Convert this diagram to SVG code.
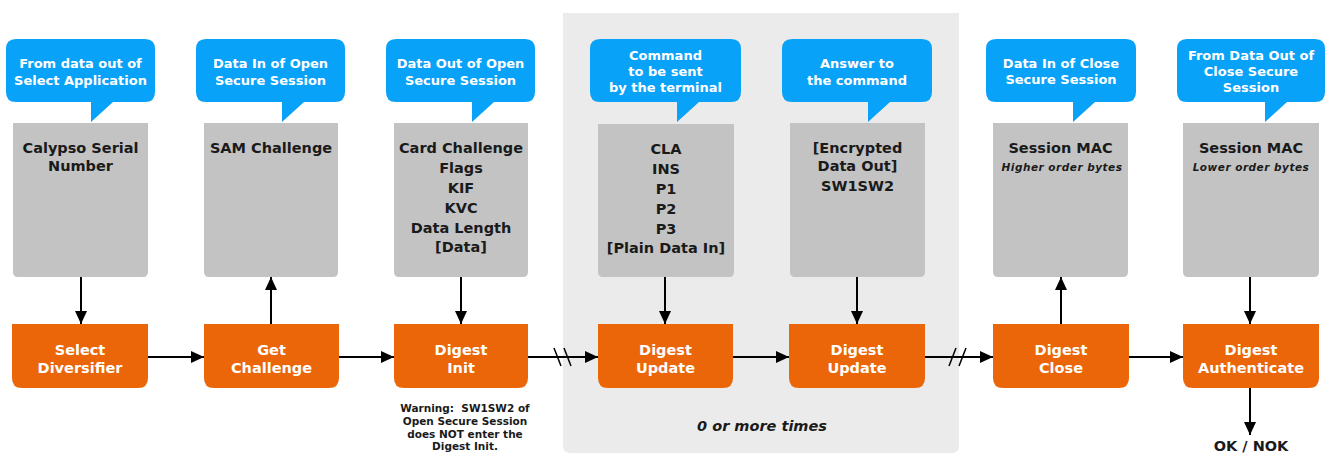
<svg xmlns="http://www.w3.org/2000/svg" width="1327" height="453" viewBox="0 0 1327 453">
  <style>
    .bg { fill: #ffffff; }
    .loop { fill: #ebebeb; }
    .callout { fill: #08a2f8; }
    .data { fill: #c3c3c3; }
    .step { fill: #eb6608; }
    text { font-family: "DejaVu Sans", Verdana, sans-serif; font-weight: bold; text-anchor: middle; }
    .ct { fill: #ffffff; font-size: 13px; }
    .dt { fill: #1a1a1a; font-size: 14.5px; }
    .sub { fill: #1a1a1a; font-size: 10.5px; font-style: italic; letter-spacing: 0.5px; }
    .st { fill: #ffffff; font-size: 14.5px; }
    .note { fill: #1a1a1a; font-size: 10.5px; white-space: pre; }
    .loopnote { fill: #1a1a1a; font-size: 14.5px; font-style: italic; }
    .wire { stroke: #000000; stroke-width: 2; fill: none; }
    .brk { stroke: #000000; stroke-width: 1.5; fill: none; }
  </style>
  <defs>
    <marker id="head" markerUnits="userSpaceOnUse" markerWidth="14" markerHeight="14" viewBox="0 0 14 14" refX="13" refY="7" orient="auto">
      <path d="M0,1 L13,7 L0,13 Z" fill="#000000"/>
    </marker>
  </defs>

  <rect class="bg" x="0" y="0" width="1327" height="453"/>

  <!-- repeated-steps area -->
  <path class="loop" d="M563,13 H959 V446 Q959,453 952,453 H570 Q563,453 563,446 Z"/>
  <text class="loopnote" x="762" y="431">0 or more times</text>

  <!-- connectors -->
  <g id="connectors">
    <line class="wire" x1="81" y1="277" x2="81" y2="324" marker-end="url(#head)"/>
    <line class="wire" x1="271" y1="324" x2="271" y2="277" marker-end="url(#head)"/>
    <line class="wire" x1="461" y1="277" x2="461" y2="324" marker-end="url(#head)"/>
    <line class="wire" x1="665" y1="277" x2="665" y2="324" marker-end="url(#head)"/>
    <line class="wire" x1="857" y1="277" x2="857" y2="324" marker-end="url(#head)"/>
    <line class="wire" x1="1061" y1="324" x2="1061" y2="277" marker-end="url(#head)"/>
    <line class="wire" x1="1250" y1="277" x2="1250" y2="324" marker-end="url(#head)"/>
    <line class="wire" x1="1250" y1="388" x2="1250" y2="435" marker-end="url(#head)"/>

    <line class="wire" x1="148" y1="357" x2="204" y2="357" marker-end="url(#head)"/>
    <line class="wire" x1="339" y1="357" x2="394" y2="357" marker-end="url(#head)"/>
    <line class="wire" x1="528" y1="357" x2="598" y2="357" marker-end="url(#head)"/>
    <line class="wire" x1="733" y1="357" x2="789" y2="357" marker-end="url(#head)"/>
    <line class="wire" x1="925" y1="357" x2="993" y2="357" marker-end="url(#head)"/>
    <line class="wire" x1="1129" y1="357" x2="1183" y2="357" marker-end="url(#head)"/>

    <!-- break marks -->
    <line class="brk" x1="554" y1="348" x2="561" y2="366"/>
    <line class="brk" x1="564" y1="348" x2="571" y2="366"/>
    <line class="brk" x1="949" y1="366" x2="956" y2="348"/>
    <line class="brk" x1="959" y1="366" x2="966" y2="348"/>
  </g>

  <!-- column 1 -->
  <g id="callout-select-app">
    <path class="callout" d="M16,39 H145 Q155,39 155,49 V92 Q155,102 145,102 H113 L91,122 V102 H16 Q6,102 6,92 V49 Q6,39 16,39 Z"/>
    <text class="ct" x="80.5" y="68">From data out of</text>
    <text class="ct" x="80.5" y="85">Select Application</text>
  </g>
  <g id="data-serial">
    <path class="data" d="M13,123 H148 V272 Q148,277 143,277 H18 Q13,277 13,272 Z"/>
    <text class="dt" x="80.5" y="153">Calypso Serial</text>
    <text class="dt" x="80.5" y="171">Number</text>
  </g>
  <g id="step-select-diversifier">
    <path class="step" d="M12,324 H148 V378 Q148,388 138,388 H22 Q12,388 12,378 Z"/>
    <text class="st" x="80" y="355">Select</text>
    <text class="st" x="80" y="373">Diversifier</text>
  </g>

  <!-- column 2 -->
  <g id="callout-open-in">
    <path class="callout" d="M206,39 H335 Q345,39 345,49 V92 Q345,102 335,102 H304 L282,122 V102 H206 Q196,102 196,92 V49 Q196,39 206,39 Z"/>
    <text class="ct" x="270.5" y="68">Data In of Open</text>
    <text class="ct" x="270.5" y="85">Secure Session</text>
  </g>
  <g id="data-sam-challenge">
    <path class="data" d="M204,123 H338 V272 Q338,277 333,277 H209 Q204,277 204,272 Z"/>
    <text class="dt" x="271" y="153">SAM Challenge</text>
  </g>
  <g id="step-get-challenge">
    <path class="step" d="M204,324 H339 V378 Q339,388 329,388 H214 Q204,388 204,378 Z"/>
    <text class="st" x="271.5" y="355">Get</text>
    <text class="st" x="271.5" y="373">Challenge</text>
  </g>

  <!-- column 3 -->
  <g id="callout-open-out">
    <path class="callout" d="M396,39 H525 Q535,39 535,49 V92 Q535,102 525,102 H494 L472,122 V102 H396 Q386,102 386,92 V49 Q386,39 396,39 Z"/>
    <text class="ct" x="460.5" y="68">Data Out of Open</text>
    <text class="ct" x="460.5" y="85">Secure Session</text>
  </g>
  <g id="data-card-challenge">
    <path class="data" d="M394,123 H528 V272 Q528,277 523,277 H399 Q394,277 394,272 Z"/>
    <text class="dt" x="461" y="153">Card Challenge</text>
    <text class="dt" x="461" y="173">Flags</text>
    <text class="dt" x="461" y="193">KIF</text>
    <text class="dt" x="461" y="213">KVC</text>
    <text class="dt" x="461" y="233">Data Length</text>
    <text class="dt" x="461" y="252">[Data]</text>
  </g>
  <g id="step-digest-init">
    <path class="step" d="M394,324 H528 V378 Q528,388 518,388 H404 Q394,388 394,378 Z"/>
    <text class="st" x="461" y="355">Digest</text>
    <text class="st" x="461" y="373">Init</text>
    <text class="note" x="465" y="412">Warning:  SW1SW2 of</text>
    <text class="note" x="465" y="425">Open Secure Session</text>
    <text class="note" x="465" y="438">does NOT enter the</text>
    <text class="note" x="465" y="450">Digest Init.</text>
  </g>

  <!-- column 4 -->
  <g id="callout-command">
    <path class="callout" d="M600,39 H731 Q741,39 741,49 V92 Q741,102 731,102 H699 L677,122 V102 H600 Q590,102 590,92 V49 Q590,39 600,39 Z"/>
    <text class="ct" x="665.5" y="60">Command</text>
    <text class="ct" x="665.5" y="76">to be sent</text>
    <text class="ct" x="665.5" y="92">by the terminal</text>
  </g>
  <g id="data-command">
    <path class="data" d="M598,124 H734 V272 Q734,277 729,277 H603 Q598,277 598,272 Z"/>
    <text class="dt" x="666" y="154">CLA</text>
    <text class="dt" x="666" y="174">INS</text>
    <text class="dt" x="666" y="194">P1</text>
    <text class="dt" x="666" y="214">P2</text>
    <text class="dt" x="666" y="234">P3</text>
    <text class="dt" x="666" y="253">[Plain Data In]</text>
  </g>
  <g id="step-digest-update-1">
    <path class="step" d="M598,324 H733 V378 Q733,388 723,388 H608 Q598,388 598,378 Z"/>
    <text class="st" x="665.5" y="355">Digest</text>
    <text class="st" x="665.5" y="373">Update</text>
  </g>

  <!-- column 5 -->
  <g id="callout-answer">
    <path class="callout" d="M792,39 H922 Q932,39 932,49 V92 Q932,102 922,102 H890 L868,122 V102 H792 Q782,102 782,92 V49 Q782,39 792,39 Z"/>
    <text class="ct" x="857" y="68">Answer to</text>
    <text class="ct" x="857" y="85">the command</text>
  </g>
  <g id="data-answer">
    <path class="data" d="M790,123 H925 V272 Q925,277 920,277 H795 Q790,277 790,272 Z"/>
    <text class="dt" x="857.5" y="153">[Encrypted</text>
    <text class="dt" x="857.5" y="171">Data Out]</text>
    <text class="dt" x="857.5" y="191">SW1SW2</text>
  </g>
  <g id="step-digest-update-2">
    <path class="step" d="M789,324 H925 V378 Q925,388 915,388 H799 Q789,388 789,378 Z"/>
    <text class="st" x="857" y="355">Digest</text>
    <text class="st" x="857" y="373">Update</text>
  </g>

  <!-- column 6 -->
  <g id="callout-close-in">
    <path class="callout" d="M996,39 H1126 Q1136,39 1136,49 V92 Q1136,102 1126,102 H1095 L1073,122 V102 H996 Q986,102 986,92 V49 Q986,39 996,39 Z"/>
    <text class="ct" x="1061" y="68">Data In of Close</text>
    <text class="ct" x="1061" y="84">Secure Session</text>
  </g>
  <g id="data-mac-high">
    <path class="data" d="M993,123 H1128 V272 Q1128,277 1123,277 H998 Q993,277 993,272 Z"/>
    <text class="dt" x="1060.5" y="153">Session MAC</text>
    <text class="sub" x="1062" y="171">Higher order bytes</text>
  </g>
  <g id="step-digest-close">
    <path class="step" d="M993,324 H1129 V378 Q1129,388 1119,388 H1003 Q993,388 993,378 Z"/>
    <text class="st" x="1061" y="355">Digest</text>
    <text class="st" x="1061" y="373">Close</text>
  </g>

  <!-- column 7 -->
  <g id="callout-close-out">
    <path class="callout" d="M1187,39 H1315 Q1325,39 1325,49 V92 Q1325,102 1315,102 H1287 L1265,122 V102 H1187 Q1177,102 1177,92 V49 Q1177,39 1187,39 Z"/>
    <text class="ct" x="1251" y="60">From Data Out of</text>
    <text class="ct" x="1251" y="76">Close Secure</text>
    <text class="ct" x="1251" y="92">Session</text>
  </g>
  <g id="data-mac-low">
    <path class="data" d="M1183,123 H1319 V272 Q1319,277 1314,277 H1188 Q1183,277 1183,272 Z"/>
    <text class="dt" x="1251" y="153">Session MAC</text>
    <text class="sub" x="1251" y="171">Lower order bytes</text>
  </g>
  <g id="step-digest-authenticate">
    <path class="step" d="M1183,324 H1319 V378 Q1319,388 1309,388 H1193 Q1183,388 1183,378 Z"/>
    <text class="st" x="1251" y="355">Digest</text>
    <text class="st" x="1251" y="373">Authenticate</text>
    <text class="dt" x="1251" y="451">OK / NOK</text>
  </g>
</svg>
